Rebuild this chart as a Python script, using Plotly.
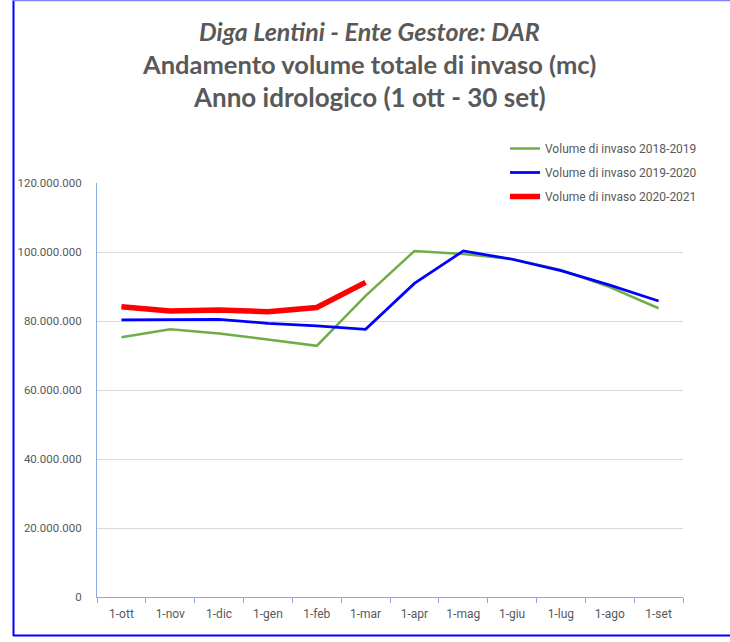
import plotly.graph_objects as go

categories = ["1-ott", "1-nov", "1-dic", "1-gen", "1-feb", "1-mar",
              "1-apr", "1-mag", "1-giu", "1-lug", "1-ago", "1-set"]
vol_2018_2019 = [75.3e6, 77.6e6, 76.4e6, 74.5e6, 72.8e6, 87.3e6,
                 100.3e6, 99.4e6, 98.0e6, 94.8e6, 89.8e6, 83.7e6]
vol_2019_2020 = [80.3e6, 80.3e6, 80.5e6, 79.3e6, 78.6e6, 77.6e6,
                 90.9e6, 100.3e6, 97.9e6, 94.6e6, 90.4e6, 85.8e6]
vol_2020_2021 = [84.1e6, 82.9e6, 83.2e6, 82.7e6, 83.9e6, 91.2e6]
series_names = ["Volume di invaso 2018-2019", "Volume di invaso 2019-2020",
                "Volume di invaso 2020-2021"]
y_tickvals = [0, 20e6, 40e6, 60e6, 80e6, 100e6, 120e6]
y_ticktext = ["0", "20.000.000", "40.000.000", "60.000.000", "80.000.000",
              "100.000.000", "120.000.000"]
title_lines = ["<i>Diga Lentini - Ente Gestore: DAR</i>",
               "Andamento volume totale di invaso (mc)",
               "Anno idrologico (1 ott - 30 set)"]

GRAY = "#595959"
AXIS = "#8EA9DB"

fig = go.Figure()
fig.add_trace(go.Scatter(x=categories, y=vol_2018_2019, mode="lines",
                         name=series_names[0], legendgroup="a",
                         line=dict(color="#70AD47", width=2.5)))
fig.add_trace(go.Scatter(x=categories, y=vol_2019_2020, mode="lines",
                         name=series_names[1], legendgroup="b",
                         line=dict(color="#0000FF", width=2.75)))
fig.add_trace(go.Scatter(x=categories[:len(vol_2020_2021)], y=vol_2020_2021,
                         mode="lines", name=series_names[2], legendgroup="c",
                         line=dict(color="#FF0000", width=5.5)))

L, R, T, B = 97, 683, 183, 597
W, H = 730, 642
pw, ph = R - L, B - T

def px(x):
    return (x - L) / pw

def py(y):
    return (B - y) / ph

annotations = []
for i, (txt, yc, sz) in enumerate(zip(title_lines, [31, 64, 97], [25, 25.5, 26])):
    annotations.append(dict(text=txt, xref="paper", yref="paper",
                            x=px(369), y=py(yc), xanchor="center", yanchor="middle",
                            showarrow=False,
                            font=dict(family="Lato", size=sz, color=GRAY,
                                      weight="bold")))

shapes = [
    dict(type="line", xref="paper", yref="paper", x0=px(13.5), x1=px(13.5),
         y0=py(0), y1=py(636), line=dict(color="#0000FF", width=2)),
    dict(type="line", xref="paper", yref="paper", x0=px(13), x1=px(730),
         y0=py(635.5), y1=py(635.5), line=dict(color="#0000FF", width=2)),
    dict(type="line", xref="paper", yref="paper", x0=px(13), x1=px(730),
         y0=py(0.5), y1=py(0.5), line=dict(color="#8080FF", width=1.5)),
]

fig.update_layout(
    width=W, height=H,
    margin=dict(l=L, r=W - R, t=T, b=H - B),
    paper_bgcolor="white", plot_bgcolor="white",
    showlegend=True,
    legend=dict(x=px(505), y=py(134), xanchor="left", yanchor="top",
                bgcolor="rgba(0,0,0,0)", tracegroupgap=5,
                font=dict(family="Roboto", size=12, color=GRAY)),
    annotations=annotations,
    shapes=shapes,
    xaxis=dict(type="category", showgrid=False, showline=True, linecolor=AXIS,
               linewidth=1, ticks="outside", tickson="boundaries", ticklen=5,
               tickcolor=AXIS, ticklabelstandoff=6,
               tickfont=dict(family="Roboto", size=12, color=GRAY),
               range=[-0.5, 11.5], fixedrange=True),
    yaxis=dict(range=[0, 120e6], tickvals=y_tickvals, ticktext=y_ticktext,
               showgrid=True, gridcolor="#D9D9D9", gridwidth=1,
               showline=True, linecolor=AXIS, zeroline=False, ticks="",
               ticklabelstandoff=12,
               tickfont=dict(family="Roboto", size=11.5, color=GRAY)),
)

fig.write_html("out.html", config={"displayModeBar": False},
               post_script="document.body.style.margin='0';")
